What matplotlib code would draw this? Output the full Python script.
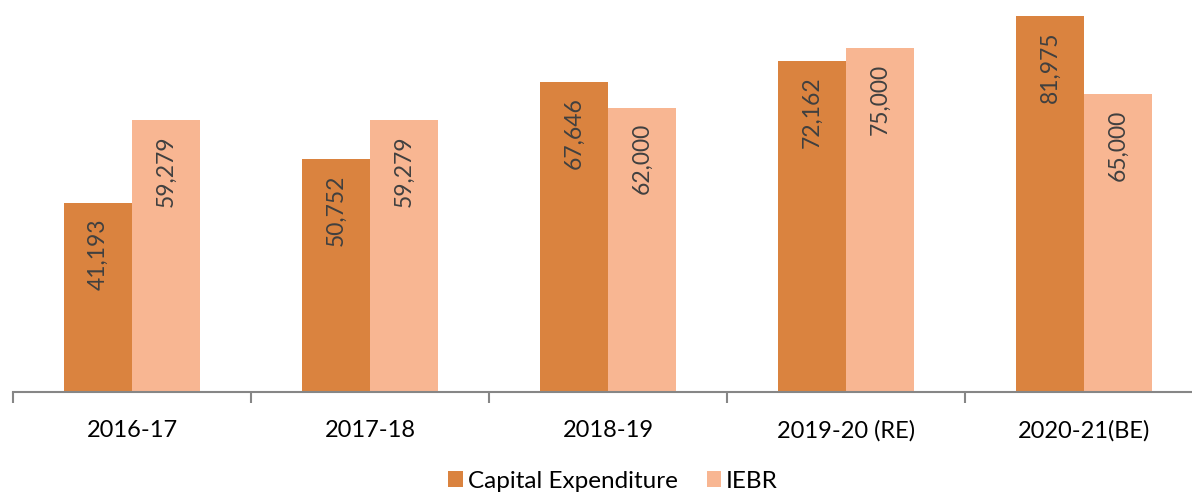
import matplotlib
matplotlib.use("Agg")
import matplotlib.pyplot as plt
import numpy as np

categories = ["2016-17", "2017-18", "2018-19", "2019-20 (RE)", "2020-21(BE)"]
capex = [41193, 50752, 67646, 72162, 81975]
iebr = [59279, 59279, 62000, 75000, 65000]
series_names = ["Capital Expenditure", "IEBR"]

plt.rcParams['font.family'] = ['Lato', 'DejaVu Sans']

W, H = 1192, 494
fig = plt.figure(figsize=(W/100, H/100), dpi=100)
ax = fig.add_axes([13/W, 102/H, 1190/W, 392/H])

x = np.arange(len(categories))
bw = 0.286
c1, c2 = "#DA833F", "#F8B692"
b1 = ax.bar(x - bw/2, capex, bw, color=c1, label=series_names[0])
b2 = ax.bar(x + bw/2, iebr, bw, color=c2, label=series_names[1])

for bars, vals in ((b1, capex), (b2, iebr)):
    for r, v in zip(bars, vals):
        ax.annotate(f"{v:,}", (r.get_x() + r.get_width()/2, v), xytext=(0, -11),
                    textcoords="offset points", rotation=90, ha="center", va="top",
                    fontsize=16.5, color="#404040")

ax.set_xlim(-0.5, len(categories) - 0.5)
ax.set_ylim(0, 85500)
for s in ["top", "right", "left"]:
    ax.spines[s].set_visible(False)
ax.spines["bottom"].set_color("#868686")
ax.spines["bottom"].set_linewidth(1.5)
ax.set_yticks([])
ax.set_xticks(x)
ax.set_xticklabels(categories, fontsize=17, color="#000000")
ax.tick_params(axis="x", which="major", length=0, pad=20)
ax.set_xticks(np.arange(-0.5, len(categories) + 0.5, 1), minor=True)
ax.tick_params(axis="x", which="minor", length=8, width=1.5, color="#868686")

fig.legend(handles=[b1, b2], loc="center", bbox_to_anchor=(613/W, 1 - 481/H), ncol=2,
           frameon=False, fontsize=17.5, handlelength=0.6, handleheight=0.6,
           handletextpad=0.2, columnspacing=1.2)

fig.savefig("out.png", dpi=100)
